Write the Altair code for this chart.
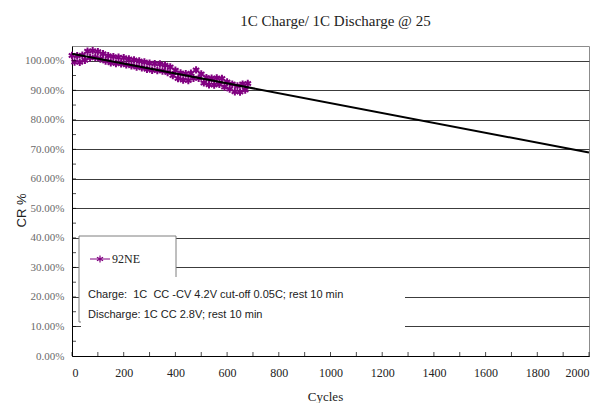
import altair as alt
import pandas as pd

# ---------------- data ----------------
title_text = "1C Charge/ 1C Discharge @ 25"
series_name = "92NE"
x_title = "Cycles"
y_title = "CR %"
note_line_1 = "Charge:\u00a0 1C\u00a0 CC -CV 4.2V cut-off 0.05C; rest 10 min"
note_line_2 = "Discharge: 1C CC 2.8V; rest 10 min"

cycles = list(range(0, 681, 10))
capacity = [
    101.8, 99.6, 101.7, 99.5, 101.9, 100.2, 103.2, 101.0, 103.4, 101.1,
    103.1, 100.6, 102.4, 99.9, 101.7, 99.3, 101.4, 99.1, 101.2, 99.0,
    101.0, 98.6, 100.6, 98.3, 100.3, 97.9, 99.9, 97.6, 99.6, 97.1,
    99.2, 96.8, 99.0, 96.7, 98.9, 96.5, 98.5, 96.0, 97.9, 95.0,
    96.8, 94.0, 95.9, 93.5, 95.6, 93.3, 95.8, 94.1, 96.9, 94.1,
    95.5, 92.5, 94.3, 91.9, 94.1, 91.8, 94.2, 92.0, 94.0, 91.1,
    92.8, 90.4, 92.1, 89.5, 91.5, 89.4, 92.1, 90.1, 92.3,
]
trend_cycles = [0, 2000]
trend_capacity = [102.4, 68.9]

x_tick_values = list(range(0, 2001, 200))
x_minor_ticks = list(range(0, 2001, 100))
y_tick_values = list(range(0, 101, 10))
y_minor_ticks = list(range(5, 101, 5))

# ---------------- styling ----------------
W, H = 517, 310
SERIF = "Liberation Serif, Times New Roman, serif"
SANS = "Liberation Sans Narrow, Liberation Sans, Arial, sans-serif"
PURPLE = "#800080"
ASTER = "M0,-1L0,1M-0.87,-0.5L0.87,0.5M-0.87,0.5L0.87,-0.5"

xscale = alt.Scale(domain=[0, 2000], nice=False)
yscale = alt.Scale(domain=[0, 105], nice=False)

df = pd.DataFrame({"cycle": cycles, "cr": capacity, "series": series_name})
trend_df = pd.DataFrame({"cycle": trend_cycles, "cr": trend_capacity})

x_axis = alt.Axis(
    values=x_tick_values, ticks=False, tickSize=0, grid=False, format="d",
    domainColor="#000000", domainWidth=1,
    labelFont=SERIF, labelFontSize=12, labelColor="#222222", labelPadding=11,
    title=x_title, titleFont=SERIF, titleFontSize=13, titleFontWeight="normal",
    titleColor="#222222", titleX=253, titleY=40, titleBaseline="middle",
)
y_axis = alt.Axis(
    values=y_tick_values, ticks=False, tickSize=0, grid=True,
    gridColor="#3c3c3c", gridWidth=1,
    domainColor="#000000", domainWidth=1,
    labelExpr="format(datum.value, '.2f') + '%'",
    labelFont=SERIF, labelFontSize=11, labelColor="#6a6a6a", labelPadding=8,
    title=y_title, titleFont=SANS, titleFontSize=13, titleFontWeight="normal",
    titleColor="#222222", titleX=-51, titleY=164, titleAlign="center",
    titleBaseline="middle",
)

X = lambda f: alt.X(f, scale=xscale, axis=x_axis)
Y = lambda f: alt.Y(f, scale=yscale, axis=y_axis)

points = alt.Chart(df).mark_point(
    shape=ASTER, filled=False, stroke=PURPLE, strokeWidth=2, size=55, opacity=1
).encode(x=X("cycle:Q"), y=Y("cr:Q"))

trend = alt.Chart(trend_df).mark_line(color="#000000", strokeWidth=2).encode(
    x=X("cycle:Q"), y=Y("cr:Q")
)

xt_df = pd.DataFrame({"cycle": x_minor_ticks})
x_ticks = alt.Chart(xt_df).mark_tick(
    orient="vertical", color="#000000", size=4, thickness=1
).encode(x=X("cycle:Q"), y=alt.value(H - 2))

yt_df = pd.DataFrame({"cr": y_minor_ticks})
y_ticks = alt.Chart(yt_df).mark_tick(
    orient="horizontal", color="#000000", size=4, thickness=1
).encode(y=Y("cr:Q"), x=alt.value(2))

one = pd.DataFrame({"series": [series_name]})

legend_box = alt.Chart(one).mark_rect(
    fill="#ffffff", stroke="#7f7f7f", strokeWidth=1
).encode(x=alt.value(7), x2=alt.value(104), y=alt.value(190), y2=alt.value(276))

note_box = alt.Chart(one).mark_rect(fill="#ffffff", strokeWidth=0).encode(
    x=alt.value(9), x2=alt.value(333), y=alt.value(231), y2=alt.value(290)
)

legend_line = alt.Chart(one).mark_rule(color=PURPLE, strokeWidth=1).encode(
    x=alt.value(18), x2=alt.value(38), y=alt.value(213)
)
legend_sym = alt.Chart(one).mark_point(
    shape=ASTER, filled=False, stroke=PURPLE, strokeWidth=1.2, size=50, opacity=1
).encode(x=alt.value(28), y=alt.value(213))
legend_txt = alt.Chart(one).mark_text(
    align="left", baseline="middle", font=SERIF, fontSize=12, color="#222222"
).encode(x=alt.value(40), y=alt.value(213), text=alt.Text("series:N"))

note1 = alt.Chart(one).mark_text(
    align="left", baseline="middle", font=SANS, fontSize=11, color="#222222"
).encode(x=alt.value(16), y=alt.value(249), text=alt.value(note_line_1))
note2 = alt.Chart(one).mark_text(
    align="left", baseline="middle", font=SANS, fontSize=11, color="#222222"
).encode(x=alt.value(16), y=alt.value(269), text=alt.value(note_line_2))

chart = alt.layer(
    points, trend, x_ticks, y_ticks, legend_box, note_box,
    legend_line, legend_sym, legend_txt, note1, note2,
).properties(
    width=W, height=H,
    background="#ffffff",
    title=alt.TitleParams(
        title_text, font=SERIF, fontSize=15, fontWeight="normal",
        color="#222222", anchor="middle", dx=5, offset=14,
    ),
    autosize=alt.AutoSizeParams(type="none"),
    padding={"left": 64, "top": 38, "right": 16, "bottom": 47},
).configure_view(
    stroke="#8c8c8c", strokeWidth=1
)

chart.save("out.html", embed_options={"renderer": "svg", "actions": False})
